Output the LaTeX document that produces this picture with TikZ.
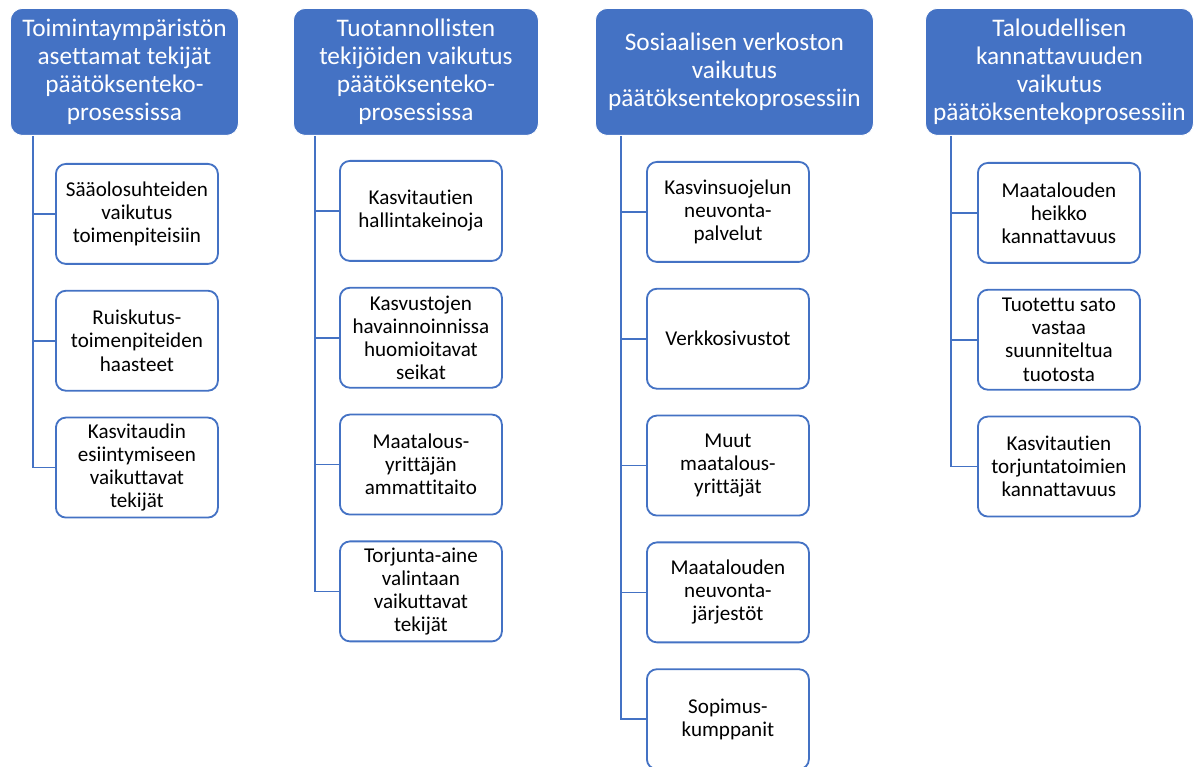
\documentclass[tikz,border=0pt]{standalone}
\usepackage{fontspec}
\setmainfont{Carlito}[Ligatures=NoCommon]
\usetikzlibrary{positioning}
\definecolor{officeblue}{RGB}{68,114,196}
\begin{document}
\begin{tikzpicture}[
                                node distance = 0.625cm,
                                semithick
                                ]

                                \tikzstyle{head}=[
                                        draw = white,
                                        fill = officeblue,
                                        text = white,
                                        rounded corners = 0.3cm,
                                        align = center,
                                        anchor = north west,
                                        minimum height = 3.175cm,
                                        font = \fontsize{18}{20}\selectfont
                                ]

                                \tikzstyle{leaf}=[
                                        draw = officeblue,
                                        line width = 1.3pt,
                                        fill = white,
                                        rounded corners = 0.25cm,
                                        align = center,
                                        minimum width = 4.05cm,
                                        minimum height = 2.5cm,
                                        font = \fontsize{15}{16.4}\selectfont
                                ]

                                \tikzstyle{link}=[
                                        draw = officeblue,
                                        line width = 1.2pt
                                ]

                                \useasboundingbox (0,0) rectangle (29.95,-19.175);

                                \node[head, minimum width = 5.7cm] (h1) at (0.25,-0.2) {Toimintaympäristön\\asettamat tekijät\\päätöksenteko-\\prosessissa};
                                \node[head, minimum width = 6.125cm] (h2) at (7.325,-0.2) {Tuotannollisten\\tekijöiden vaikutus\\päätöksenteko-\\prosessissa};
                                \node[head, minimum width = 6.95cm] (h3) at (14.875,-0.2) {Sosiaalisen verkoston\\vaikutus\\päätöksentekoprosessiin};
                                \node[head, minimum width = 6.7cm] (h4) at (23.125,-0.2) {Taloudellisen\\kannattavuuden\\vaikutus\\päätöksentekoprosessiin};

                                \node[leaf, anchor = north west] (c11) at (1.375,-4.075) {Sääolosuhteiden\\vaikutus\\toimenpiteisiin};
                                \node[leaf] (c12) [below=of c11] {Ruiskutus-\\toimenpiteiden\\haasteet};
                                \node[leaf] (c13) [below=of c12] {Kasvitaudin\\esiintymiseen\\vaikuttavat\\tekijät};

                                \node[leaf, anchor = north west] (c21) at (8.475,-4.0) {Kasvitautien\\hallintakeinoja};
                                \node[leaf] (c22) [below=of c21] {Kasvustojen\\havainnoinnissa\\huomioitavat\\seikat};
                                \node[leaf] (c23) [below=of c22] {Maatalous-\\yrittäjän\\ammattitaito};
                                \node[leaf] (c24) [below=of c23] {Torjunta-aine\\valintaan\\vaikuttavat\\tekijät};

                                \node[leaf, anchor = north west] (c31) at (16.15,-4.025) {Kasvinsuojelun\\neuvonta-\\palvelut};
                                \node[leaf] (c32) [below=of c31] {Verkkosivustot};
                                \node[leaf] (c33) [below=of c32] {Muut\\maatalous-\\yrittäjät};
                                \node[leaf] (c34) [below=of c33] {Maatalouden\\neuvonta-\\järjestöt};
                                \node[leaf] (c35) [below=of c34] {Sopimus-\\kumppanit};

                                \node[leaf, anchor = north west] (c41) at (24.425,-4.05) {Maatalouden\\heikko\\kannattavuus};
                                \node[leaf] (c42) [below=of c41] {Tuotettu sato\\vastaa\\suunniteltua\\tuotosta};
                                \node[leaf] (c43) [below=of c42] {Kasvitautien\\torjuntatoimien\\kannattavuus};

                                \coordinate (t1) at (0.825,0);
                                \coordinate (t2) at (7.875,0);
                                \coordinate (t3) at (15.525,0);
                                \coordinate (t4) at (23.775,0);

                                \draw[link] (h1.south -| t1) |- (c13.west);
                                \draw[link] (c11.west) -- (c11.west -| t1);
                                \draw[link] (c12.west) -- (c12.west -| t1);

                                \draw[link] (h2.south -| t2) |- (c24.west);
                                \draw[link] (c21.west) -- (c21.west -| t2);
                                \draw[link] (c22.west) -- (c22.west -| t2);
                                \draw[link] (c23.west) -- (c23.west -| t2);

                                \draw[link] (h3.south -| t3) |- (c35.west);
                                \draw[link] (c31.west) -- (c31.west -| t3);
                                \draw[link] (c32.west) -- (c32.west -| t3);
                                \draw[link] (c33.west) -- (c33.west -| t3);
                                \draw[link] (c34.west) -- (c34.west -| t3);

                                \draw[link] (h4.south -| t4) |- (c43.west);
                                \draw[link] (c41.west) -- (c41.west -| t4);
                                \draw[link] (c42.west) -- (c42.west -| t4);
\end{tikzpicture}
\end{document}
